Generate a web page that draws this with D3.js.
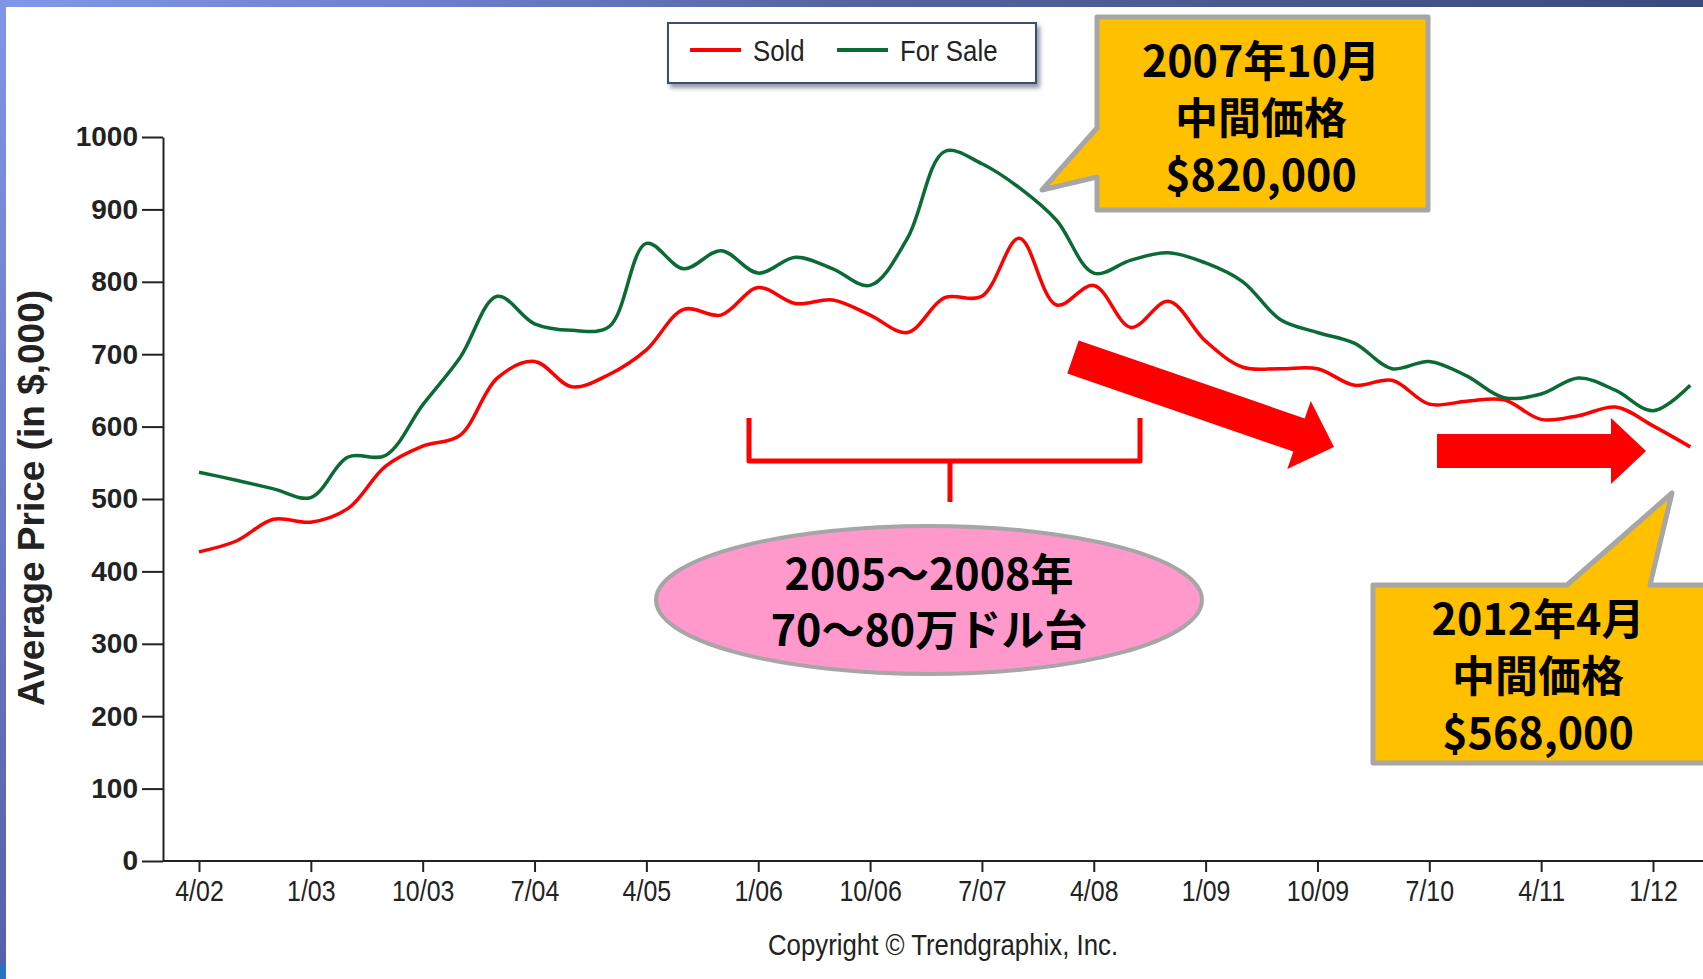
<!DOCTYPE html>
<html>
<head>
<meta charset="UTF-8">
<title>Average Price - Sold / For Sale</title>
<script src="https://d3js.org/d3.v7.min.js"></script>
<style>
  body { margin: 0; background: #fff; }
  svg { display: block; }
</style>
</head>
<body>
<svg width="1703" height="979"></svg>
<script>
// quarterly points, label format M/YY
var quarters = ["4/02","7/02","10/02","1/03","4/03","7/03","10/03","1/04","4/04","7/04","10/04",
    "1/05","4/05","7/05","10/05","1/06","4/06","7/06","10/06","1/07","4/07","7/07","10/07",
    "1/08","4/08","7/08","10/08","1/09","4/09","7/09","10/09","1/10","4/10","7/10","10/10",
    "1/11","4/11","7/11","10/11","1/12","4/12"];
var sold = [427,442,472,468,487,545,573,588,667,690,655,672,706,762,754,792,770,775,754,730,
    778,780,860,768,795,737,773,718,682,680,680,657,664,631,635,637,610,615,627,601,572];
var forSale = [537,526,514,502,558,560,630,695,780,742,733,738,853,818,843,812,834,818,795,860,
    980,963,930,885,812,830,840,826,800,748,730,715,680,690,670,640,645,667,650,622,657];
var xTickLabels = ["4/02","1/03","10/03","7/04","4/05","1/06","10/06","7/07","4/08","1/09","10/09","7/10","4/11","1/12"];
var yTicks = [0,100,200,300,400,500,600,700,800,900,1000];
var seriesNames = ["Sold", "For Sale"];
var colors = ["#ff0000", "#0b6a35"];

// month index counted from 4/02
function monthIndex(label) {
    var p = label.split("/");
    return (2000 + (+p[1]) - 2002) * 12 + (+p[0]) - 4;
}

var svg = d3.select("svg");
var W = 1703, H = 979;
var sans = "'Liberation Sans', Arial, sans-serif";
var jp = "'Noto Sans CJK JP', sans-serif";
var squeeze = "scale(0.86,1)";   // condensed look of the original chart font

// slide frame
var defs = svg.append("defs");
var gTop = defs.append("linearGradient").attr("id", "topband");
gTop.append("stop").attr("offset", "0").attr("stop-color", "#8397e8");
gTop.append("stop").attr("offset", "0.25").attr("stop-color", "#6d7fce");
gTop.append("stop").attr("offset", "0.5").attr("stop-color", "#55649f");
gTop.append("stop").attr("offset", "1").attr("stop-color", "#3d4a7e");
var gLeft = defs.append("linearGradient").attr("id", "leftband")
    .attr("x1", 0).attr("y1", 0).attr("x2", 0).attr("y2", 1);
gLeft.append("stop").attr("offset", "0").attr("stop-color", "#8195e6");
gLeft.append("stop").attr("offset", "1").attr("stop-color", "#5860a8");
var shadow = defs.append("filter").attr("id", "shadow")
    .attr("x", "-10%").attr("y", "-20%").attr("width", "130%").attr("height", "160%");
shadow.append("feDropShadow").attr("dx", 3).attr("dy", 4).attr("stdDeviation", 2)
    .attr("flood-color", "#3a4a66").attr("flood-opacity", 0.55);

svg.append("rect").attr("width", W).attr("height", H).attr("fill", "#fff");
svg.append("rect").attr("width", W).attr("height", 7).attr("fill", "url(#topband)");
svg.append("rect").attr("y", 0).attr("width", 6).attr("height", 963).attr("fill", "url(#leftband)");
svg.append("rect").attr("y", 963).attr("width", 6).attr("height", 16).attr("fill", "#2a72c2");

// scales
var x = d3.scaleLinear().domain([0, 117]).range([199, 1653]);
var y = d3.scaleLinear().domain([0, 1000]).range([861, 137]);

// y axis
var yAxis = svg.append("g")
    .attr("transform", "translate(163,0)")
    .call(d3.axisLeft(y).tickValues(yTicks).tickFormat(d3.format("d"))
        .tickSize(21).tickSizeOuter(0).tickPadding(4));
yAxis.select(".domain").attr("stroke", "#222").attr("stroke-width", 2);
yAxis.selectAll(".tick line").attr("stroke", "#222").attr("stroke-width", 2);
yAxis.selectAll(".tick text")
    .attr("font-family", sans)
    .attr("font-weight", "bold")
    .attr("font-size", 28)
    .attr("fill", "#222");

// x axis
var xAxis = svg.append("g")
    .attr("transform", "translate(0," + y(0) + ")")
    .call(d3.axisBottom(x)
        .tickValues(xTickLabels.map(monthIndex))
        .tickFormat(function(d, i) { return xTickLabels[i]; })
        .tickSize(11).tickPadding(8));
xAxis.select(".domain").remove();
xAxis.append("line").attr("x1", 163).attr("x2", W).attr("stroke", "#222").attr("stroke-width", 2);
xAxis.selectAll(".tick line").attr("stroke", "#222").attr("stroke-width", 2);
xAxis.selectAll(".tick text")
    .attr("font-family", sans)
    .attr("font-size", 29)
    .attr("fill", "#222")
    .attr("transform", squeeze);

// axis title and copyright
svg.append("text")
    .attr("transform", "translate(44,498) rotate(-90)")
    .attr("text-anchor", "middle")
    .attr("font-family", sans)
    .attr("font-weight", "bold")
    .attr("font-size", 37)
    .attr("fill", "#222")
    .text("Average Price (in $,000)");
svg.append("text")
    .attr("transform", "translate(943,955) " + squeeze)
    .attr("text-anchor", "middle")
    .attr("font-family", sans)
    .attr("font-size", 30)
    .attr("fill", "#222")
    .text("Copyright \u00a9 Trendgraphix, Inc.");

// lines
var line = d3.line()
    .x(function(d) { return x(monthIndex(d.q)); })
    .y(function(d) { return y(d.v); })
    .curve(d3.curveCatmullRom.alpha(0.5));
[sold, forSale].forEach(function(vals, k) {
    var pts = quarters.map(function(q, i) { return { q: q, v: vals[i] }; });
    svg.append("path")
        .datum(pts)
        .attr("d", line)
        .attr("fill", "none")
        .attr("stroke", colors[k])
        .attr("stroke-width", 3.5)
        .attr("stroke-linejoin", "round");
});

// legend
var legend = svg.append("g");
legend.append("rect")
    .attr("x", 668).attr("y", 23).attr("width", 368).attr("height", 60)
    .attr("fill", "#fff").attr("stroke", "#3b4d70").attr("stroke-width", 2)
    .attr("filter", "url(#shadow)");
var legX = [690, 837];
seriesNames.forEach(function(name, k) {
    legend.append("line")
        .attr("x1", legX[k]).attr("x2", legX[k] + 51)
        .attr("y1", 50).attr("y2", 50)
        .attr("stroke", colors[k]).attr("stroke-width", 4);
    legend.append("text")
        .attr("transform", "translate(" + (legX[k] + 63) + ",61) " + squeeze)
        .attr("font-family", sans)
        .attr("font-size", 30)
        .attr("fill", "#222")
        .text(name);
});

// arrows
function arrow(from, to, shaftW, headW, headL) {
    var dx = to[0] - from[0], dy = to[1] - from[1];
    var len = Math.sqrt(dx * dx + dy * dy);
    var ux = dx / len, uy = dy / len, px = -uy, py = ux;
    var bx = to[0] - ux * headL, by = to[1] - uy * headL;
    var s = shaftW / 2, h = headW / 2;
    var pts = [
        [from[0] + px * s, from[1] + py * s],
        [bx + px * s, by + py * s],
        [bx + px * h, by + py * h],
        to,
        [bx - px * h, by - py * h],
        [bx - px * s, by - py * s],
        [from[0] - px * s, from[1] - py * s]
    ];
    svg.append("polygon")
        .attr("points", pts.map(function(p) { return p.join(","); }).join(" "))
        .attr("fill", "#ff0000");
}
arrow([1073, 357], [1334, 447], 35, 72, 37);
arrow([1437, 451], [1646, 451], 34, 66, 35);

// bracket
svg.append("path")
    .attr("d", "M749,418V461H1140V418M950,461V502")
    .attr("fill", "none")
    .attr("stroke", "#ff0000")
    .attr("stroke-width", 5)
    .attr("stroke-linejoin", "round");

// multi-line label as one text element
function lines(cx, ys, texts) {
    var t = svg.append("text")
        .attr("text-anchor", "middle")
        .attr("font-family", jp)
        .attr("font-weight", "bold")
        .attr("font-size", 43)
        .attr("fill", "#000");
    texts.forEach(function(s, i) {
        t.append("tspan")
            .attr("x", cx).attr("y", ys[i])
            .attr("dominant-baseline", "central")
            .text(s);
    });
}

// ellipse
svg.append("ellipse")
    .attr("cx", 929).attr("cy", 600).attr("rx", 273).attr("ry", 74)
    .attr("fill", "#ff99cc").attr("stroke", "#a6a6a6").attr("stroke-width", 4);
lines(929, [571, 627], ["2005\u301c2008年", "70\u301c80万ドル台"]);

// callouts
svg.append("path")
    .attr("d", "M1097,17H1428V210H1097V177L1042,190L1097,128Z")
    .attr("fill", "#ffc000").attr("stroke", "#a6a6a6").attr("stroke-width", 5)
    .attr("stroke-linejoin", "round");
lines(1261, [58, 115, 172], ["2007年10月", "中間価格", "$820,000"]);
svg.append("path")
    .attr("d", "M1373,585H1567L1672,493L1650,585H1715V763H1373Z")
    .attr("fill", "#ffc000").attr("stroke", "#a6a6a6").attr("stroke-width", 5)
    .attr("stroke-linejoin", "round");
lines(1538, [616, 673, 730], ["2012年4月", "中間価格", "$568,000"]);
</script>
</body>
</html>
